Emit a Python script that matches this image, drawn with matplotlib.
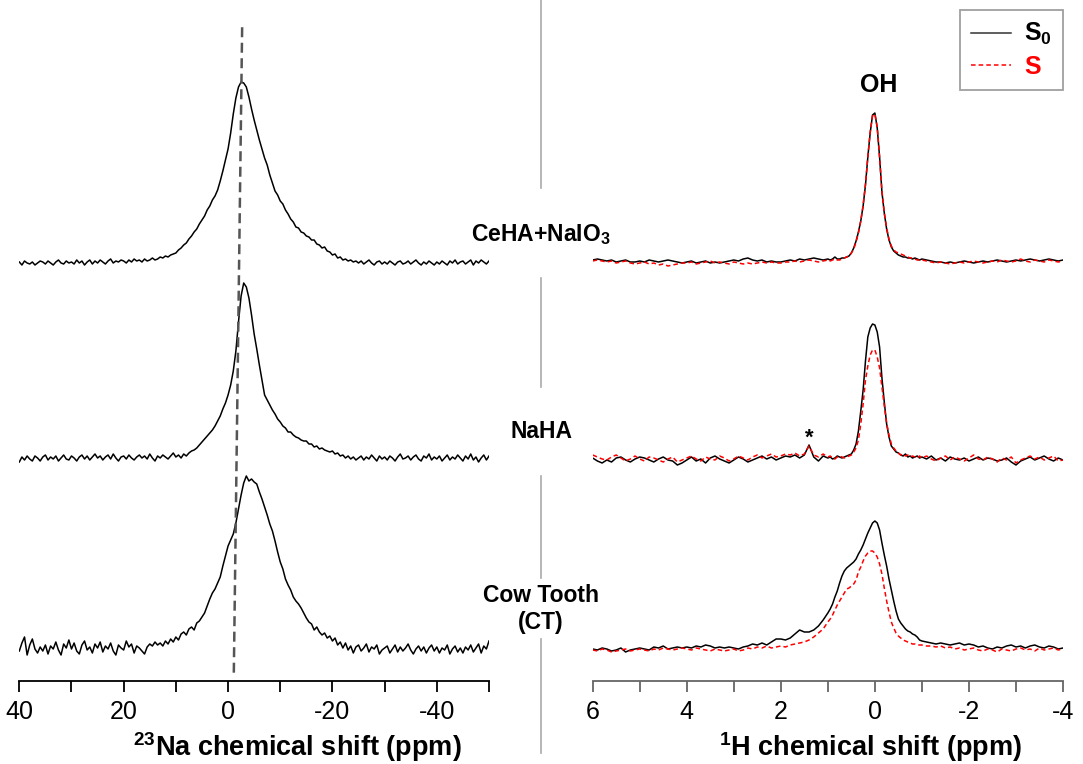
import numpy as np
import matplotlib
matplotlib.use("Agg")
import matplotlib.pyplot as plt
from matplotlib.lines import Line2D
from matplotlib.ticker import MultipleLocator, FuncFormatter

plt.rcParams['font.family'] = ['Liberation Sans', 'DejaVu Sans']
plt.rcParams['mathtext.fontset'] = 'custom'
plt.rcParams['mathtext.rm'] = 'Liberation Sans'
plt.rcParams['mathtext.bf'] = 'Liberation Sans:bold'
plt.rcParams['mathtext.it'] = 'Liberation Sans:italic'
plt.rcParams['axes.unicode_minus'] = False

# ---- 23Na spectra (intensity a.u., 0.5 ppm steps from 40 to -50 ppm)
na_ppm = np.arange(40.0, -50.25, -0.5)

na_ceha = [1, -2, 2, 0, -1, 1, -2, 0, 2, 1,
           -1, 2, 0, -2, 1, 3, 0, -1, 2, 0,
           1, -1, 3, 0, 2, -2, 1, 3, -1, 2,
           0, 3, 1, -1, 2, 4, 0, 2, 1, 3,
           2, 0, 3, 1, 4, 2, 3, 1, 4, 2,
           3, 5, 3, 4, 6, 5, 7, 6, 8, 9,
           10, 13, 15, 18, 20, 24, 27, 31, 34, 39,
           43, 47, 53, 57, 63, 67, 73, 82, 92, 103,
           114, 130, 149, 165, 176, 181, 180, 176, 166, 154,
           143, 133, 123, 114, 105, 98, 88, 80, 72, 68,
           62, 59, 53, 49, 44, 41, 36, 35, 31, 30,
           27, 26, 23, 23, 19, 18, 15, 16, 12, 11,
           8, 9, 5, 6, 3, 4, 2, 3, 1, 2,
           0, 2, -1, 1, 3, 0, -2, 1, 2, -1,
           1, -1, 2, 0, -2, 1, 2, -1, 0, 2,
           -1, 1, 3, 0, -2, 1, -1, 2, 0, -2,
           1, -1, 2, 0, -2, 2, 0, 3, -1, 1,
           2, -1, 1, 3, -2, 2, 0, 3, 1, -1,
           2]

na_naha = [-3, 2, -1, 3, 0, -2, 3, 1, -2, 2,
           4, -1, 2, 0, 3, -2, 1, 4, 0, -1,
           3, 1, -2, 2, 4, 0, 3, -1, 2, 5,
           1, 3, -1, 2, 4, 0, 5, 1, -2, 2,
           3, 0, 4, 1, -1, 2, 4, 1, 3, 0,
           5, 1, -2, 3, 1, 4, 2, 0, 3, 6,
           2, 4, 1, 5, 3, 6, 8, 9, 11, 14,
           17, 20, 23, 26, 29, 33, 38, 43, 50, 56,
           64, 74, 88, 108, 137, 163, 176, 172, 161, 144,
           125, 110, 94, 79, 64, 59, 54, 49, 45, 40,
           37, 33, 31, 27, 27, 24, 22, 21, 19, 18,
           18, 15, 15, 12, 13, 10, 11, 9, 8, 7,
           8, 5, 6, 3, 4, 1, 3, 0, 2, -1,
           1, 3, -1, 2, 0, 4, 1, -2, 3, 0,
           2, -1, 3, 1, -2, 2, 5, 0, 1, 3,
           -1, 2, 4, 0, -2, 3, 1, 5, -1, 2,
           0, 3, -2, 1, 4, -1, 2, 0, 4, 1,
           -2, 3, 0, 5, -1, 2, -3, 1, 4, -1,
           3]

na_ct = [0, 8, 14, -4, 6, 12, 2, -2, 4, 0,
         6, -3, 5, 2, 9, 1, -4, 7, 3, 11,
         2, 8, 0, -3, 6, 10, 1, 4, -2, 7,
         3, 9, -1, 5, 2, 8, 0, -4, 6, 3,
         1, 10, 4, 7, -2, 5, 3, 0, -3, 4,
         7, 5, 9, 6, 8, 5, 10, 7, 12, 9,
         14, 11, 17, 19, 16, 22, 24, 21, 28, 30,
         34, 38, 45, 52, 58, 62, 68, 74, 85, 95,
         105, 111, 117, 128, 142, 156, 168, 175, 170, 172,
         169, 167, 159, 152, 144, 136, 127, 120, 110, 99,
         89, 82, 72, 66, 61, 54, 50, 47, 43, 38,
         33, 29, 27, 21, 24, 19, 16, 18, 13, 15,
         10, 13, 6, 9, 3, 8, 1, 5, -2, 4,
         6, 0, 3, 7, -1, 4, 2, 6, -3, 1,
         3, 5, -2, 2, 6, -1, 4, 0, 3, 7,
         1, -3, 2, 5, 0, 4, -2, 3, 6, 0,
         4, -2, 3, 1, 6, -3, 2, 5, -1, 3,
         -2, 4, 1, 6, -1, 3, 7, -2, 5, 2,
         10]

na_ref_ppm = [-2.7, -1.1]

# ---- 1H spectra (S0 black, S red), finer sampling around the OH peak
h_ppm = np.concatenate([np.arange(6.0, 1.05, -0.1),
                        np.arange(1.0, -0.975, -0.05),
                        np.arange(-1.0, -4.05, -0.1)])

h_ceha_s0 = [1, 2, 1, 0, 1, -1, 0, 1, -1, -1,
             0, -1, 1, 0, -1, 0, 1, 0, -1, -2,
             -1, 0, -2, -1, 0, -2, -1, -2, -1, 0,
             1, 0, 2, 3, 1, 0, 1, -1, 0, -1,
             -1, 0, 1, 0, 2, 1, 2, 3, 2, 1,
             2, 1, 2, 4, 2, 2, 3, 3, 4, 5,
             8, 13, 20, 29, 40, 55, 76, 104, 128, 146,
             148, 133, 104, 69, 48, 32, 21, 14, 10, 8,
             6, 5, 4, 4, 3, 3, 2, 3, 2, 1,
             2, 1, 0, -1, -1, -2, -1, -2, -1, 0,
             -1, -2, -1, 0, -1, 0, 1, 0, -1, 0,
             1, 0, 1, 2, 1, 0, 1, 2, 1, 0, 1]
h_ceha_s = [0, 1, 0, -1, 0, -2, -1, 0, -2, -3,
            -2, -1, -3, -2, -4, -3, -5, -4, -3, -2,
            -2, -1, -3, -2, -1, 0, -2, -1, -2, -3,
            -1, -2, -3, -2, -3, -2, -1, -2, -1, -2,
            -2, -1, -1, 0, -1, 0, 1, 0, -1, 0,
            1, 0, 1, 2, 1, 1, 2, 3, 4, 5,
            8, 12, 19, 28, 40, 56, 77, 104, 129, 145,
            147, 134, 104, 70, 48, 33, 22, 15, 11, 9,
            8, 7, 6, 5, 4, 3, 3, 2, 1, 1,
            1, 0, -1, -2, -1, -2, -3, -2, -1, -2,
            -1, 0, -1, -2, -1, 0, -1, 1, 0, -1,
            0, 2, 0, -1, 1, 0, -1, 1, 0, -1, 0]

h_naha_s0 = [1, -2, -4, -1, -3, 1, 2, -1, -3, 0,
             2, 1, -1, -3, 0, 2, -1, -2, -6, -4,
             -1, 2, -2, 0, -4, 1, 3, 0, -2, -4,
             -1, 2, 0, -3, -1, 1, 3, 0, 2, -1,
             1, 3, 2, 4, 1, 4, 14, 2, -2, 3,
             1, 2, 0, 1, 3, 2, 1, 2, 3, 4,
             5, 9, 15, 28, 48, 69, 98, 122, 131, 135,
             134, 127, 112, 81, 57, 35, 22, 13, 10, 7,
             6, 4, 3, 5, 2, 3, 1, 2, 3, 1,
             2, 0, 3, -1, 1, -2, 2, 0, -1, 1,
             -2, 0, 2, -1, 1, 0, -2, -1, 1, -3,
             -6, -2, 0, 2, -1, 1, 3, 0, -2, 1, -1]
h_naha_s = [4, 2, 0, -1, 2, 4, 1, -2, 0, 3,
            0, -2, 2, 1, -1, -3, 0, 2, -3, -1,
            1, 3, 0, -2, 2, 0, -1, 3, 1, -2,
            0, 3, 1, -1, 2, 4, 1, 3, 5, 2,
            3, 5, 4, 6, 3, 5, 13, 4, 2, 5,
            2, 3, 1, 0, 2, 3, 2, 1, 2, 3,
            4, 7, 11, 19, 35, 55, 79, 93, 104, 109,
            109, 102, 91, 72, 53, 36, 24, 15, 11, 8,
            6, 4, 5, 3, 4, 2, 3, 2, 1, 3,
            1, 3, 0, -2, 1, 3, -1, 2, 0, -2,
            1, 4, 0, -1, 2, 0, -3, 1, -1, 2,
            -4, -1, 1, 3, 0, 2, -1, 1, 3, -2, -1]

h_ct_s0 = [1, 0, 2, 1, -1, 0, 2, -2, 0, 1,
           2, 1, 0, 3, 2, 4, 1, 2, 3, 2,
           3, 2, 4, 3, 5, 4, 2, 3, 2, 3,
           2, 1, 3, 4, 6, 5, 7, 5, 8, 11,
           11, 10, 12, 16, 20, 18, 18, 20, 24, 30,
           37, 41, 46, 53, 59, 67, 74, 79, 82, 84,
           86, 88, 91, 96, 100, 105, 111, 117, 122, 127,
           129, 127, 120, 107, 95, 84, 71, 60, 49, 39,
           31, 27, 24, 21, 19, 18, 16, 15, 13, 10,
           9, 8, 7, 6, 7, 6, 5, 6, 7, 5,
           6, 5, 3, 4, 2, 1, 3, 2, 4, 5,
           3, 4, 2, 4, 5, 3, 2, 4, 3, 1, 2]
h_ct_s = [0, -1, 1, 0, -2, -1, 0, 1, -1, 0,
          1, 0, -1, 1, 0, 2, 1, 0, 1, 2,
          1, 0, 2, 1, 0, -1, 1, 0, -1, 0,
          1, -1, 0, 2, 1, 3, 2, 4, 2, 3,
          4, 3, 5, 6, 7, 8, 10, 13, 17, 21,
          28, 31, 35, 40, 45, 49, 53, 57, 61, 62,
          64, 66, 70, 78, 83, 89, 94, 97, 99, 99,
          97, 93, 86, 76, 62, 49, 38, 28, 22, 17,
          14, 12, 10, 9, 8, 7, 6, 6, 5, 5,
          5, 4, 4, 3, 4, 2, 3, 1, 2, 0,
          1, 2, 0, -1, 1, 0, -2, 1, 0, -1,
          1, 2, 0, 1, -1, 2, 0, 1, 2, 0, 1]

samples = ['CeHA+NaIO$_\\mathbf{3}$', 'NaHA', 'Cow Tooth\n(CT)']

# ---- figure ----
W, H = 1083, 764
fig = plt.figure(figsize=(W / 100, H / 100), dpi=100)
spine_y = 681
ax_l = fig.add_axes([19.3 / W, (H - spine_y) / H, 469.7 / W, spine_y / H])
ax_r = fig.add_axes([592.7 / W, (H - spine_y) / H, 470.3 / W, spine_y / H])

na_offsets = [418, 222, 30]
h_offsets = [420, 222, 31]

for spec, off in zip([na_ceha, na_naha, na_ct], na_offsets):
    ax_l.plot(na_ppm, np.array(spec) + off, color='black', lw=1.1)

tr = ax_l.get_xaxis_transform()
ax_l.plot(na_ref_ppm, [0.96, 0.01], transform=tr, color='#555555', lw=1.8,
          dashes=(4, 2.2))

s0_list = [h_ceha_s0, h_naha_s0, h_ct_s0]
s_list = [h_ceha_s, h_naha_s, h_ct_s]
for s0, s, off in zip(s0_list, s_list, h_offsets):
    ax_r.plot(h_ppm, np.array(s0) + off, color='black', lw=1.1)
    ax_r.plot(h_ppm, np.array(s) + off, color='red', lw=1.1, dashes=(3, 2))

ax_l.set_xlim(40, -50)
ax_r.set_xlim(6, -4)
for ax, col, major, minor in [(ax_l, 'black', 20, 10), (ax_r, '#666666', 2, 1)]:
    ax.set_ylim(0, spine_y)
    for side in ['top', 'left', 'right']:
        ax.spines[side].set_visible(False)
    ax.spines['bottom'].set_color(col)
    ax.spines['bottom'].set_linewidth(1.3)
    ax.set_yticks([])
    ax.xaxis.set_major_locator(MultipleLocator(major))
    ax.xaxis.set_minor_locator(MultipleLocator(minor))
    ax.tick_params(axis='x', which='both', length=8, width=1.3, color=col,
                   direction='out', labelsize=18, pad=6)
    ax.xaxis.set_major_formatter(FuncFormatter(lambda v, p: '%d' % v))
    ax.patch.set_alpha(0)

ax_l.set_xlabel('$^{\\mathbf{23}}$Na chemical shift (ppm)', fontsize=19.5,
                fontweight='bold', labelpad=4.5)
ax_r.set_xlabel('$^{\\mathbf{1}}$H chemical shift (ppm)', fontsize=19.5,
                fontweight='bold', labelpad=4.5)
ax_l.xaxis.label.set_x(0.593)
ax_r.xaxis.label.set_x(0.590)

# separator between the two panels
for y0, y1 in [(0, 188), (278, 387), (476, 578), (639, 753)]:
    fig.add_artist(Line2D([541 / W, 541 / W], [1 - y0 / H, 1 - y1 / H],
                          color='#aaaaaa', lw=1.2))

for name, yc in zip(samples, [235, 431, 609]):
    fig.text(541 / W, 1 - yc / H, name, ha='center', va='center', fontsize=16.5,
             fontweight='bold', linespacing=1.2)

fig.text(879 / W, 1 - 85 / H, 'OH', ha='center', va='center', fontsize=18,
         fontweight='bold')
fig.text(809 / W, 1 - 444 / H, '*', ha='center', va='baseline', fontsize=16,
         fontweight='bold')

handles = [Line2D([], [], color='#333333', lw=1.1),
           Line2D([], [], color='red', lw=1.1, dashes=(3, 2))]
leg = fig.legend(handles, ['S$_\\mathbf{0}$', 'S'], loc='upper right',
                 bbox_to_anchor=(1063 / W, 1 - 10 / H), borderaxespad=0,
                 frameon=True, fancybox=False, edgecolor='#888888',
                 prop={'weight': 'bold', 'size': 18}, handlelength=1.6,
                 borderpad=0.45, labelspacing=0.3, handletextpad=0.5)
leg.get_frame().set_linewidth(1.3)
leg.get_texts()[1].set_color('red')

fig.savefig('out.png', dpi=100)
